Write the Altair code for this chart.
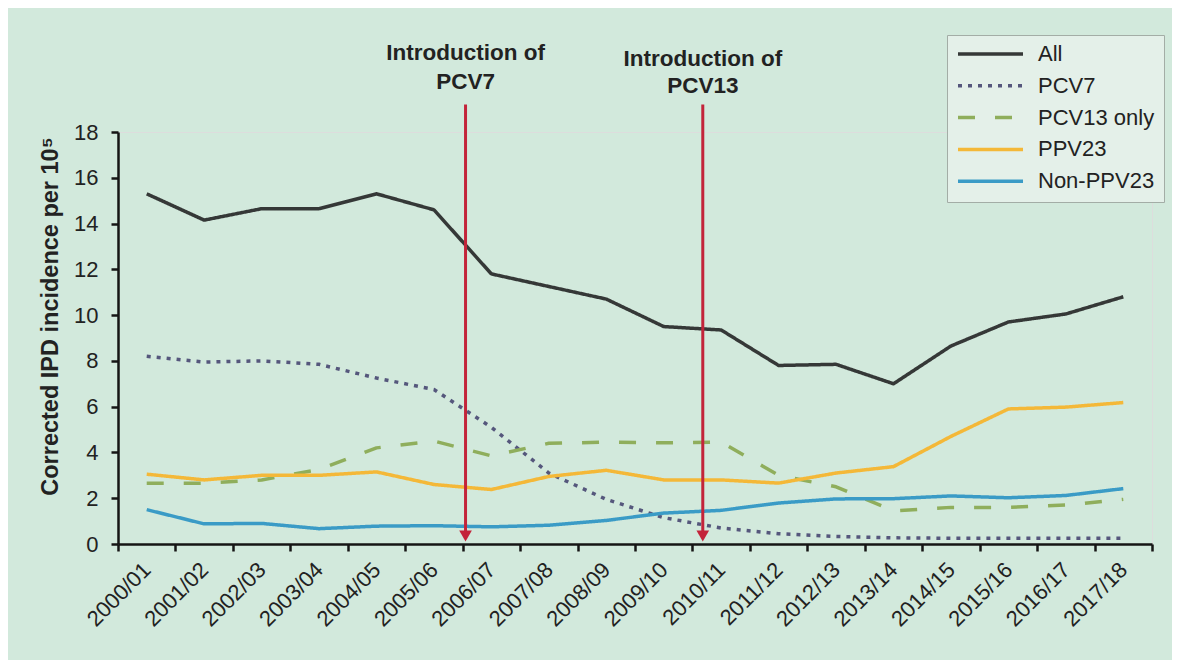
import json
import altair as alt
import pandas as pd

# ---------------- data ----------------
seasons = ["2000/01", "2001/02", "2002/03", "2003/04", "2004/05", "2005/06",
           "2006/07", "2007/08", "2008/09", "2009/10", "2010/11", "2011/12",
           "2012/13", "2013/14", "2014/15", "2015/16", "2016/17", "2017/18"]

all_ipd = [15.3, 14.15, 14.65, 14.65, 15.3, 14.6, 11.8, 11.25, 10.7, 9.5,
           9.35, 7.8, 7.85, 7.0, 8.65, 9.7, 10.05, 10.8]
pcv7 = [8.2, 7.95, 8.0, 7.85, 7.25, 6.75, 5.1, 3.1, 1.95, 1.15,
        0.7, 0.45, 0.33, 0.27, 0.25, 0.25, 0.25, 0.25]
pcv13_only = [2.65, 2.65, 2.8, 3.25, 4.2, 4.5, 3.85, 4.4, 4.45, 4.42,
              4.45, 3.0, 2.5, 1.45, 1.6, 1.6, 1.7, 1.95]
ppv23 = [3.05, 2.8, 3.0, 3.0, 3.15, 2.6, 2.38, 2.95, 3.22, 2.8,
         2.8, 2.66, 3.1, 3.38, 4.7, 5.9, 5.98, 6.18]
non_ppv23 = [1.5, 0.88, 0.9, 0.67, 0.78, 0.8, 0.75, 0.82, 1.03, 1.35,
             1.47, 1.79, 1.97, 1.98, 2.1, 2.02, 2.12, 2.42]

series_names = ["All", "PCV7", "PCV13 only", "PPV23", "Non-PPV23"]
series_values = [all_ipd, pcv7, pcv13_only, ppv23, non_ppv23]
series_colors = ["#353837", "#55577c", "#8fae5c", "#f4b838", "#3a9bc6"]
series_dashes = [[1, 0], [4, 6], [17, 20], [1, 0], [1, 0]]

# vaccine introductions (position in season units along the x axis)
intro_x = [6.05, 10.18]
intro_line1 = ["Introduction of", "Introduction of"]
intro_line2 = ["PCV7", "PCV13"]
intro_y1 = [21.45, 21.2]
intro_y2 = [20.2, 20.0]
arrow_top = 19.2
arrow_tip = 0.35

y_ticks = [0, 2, 4, 6, 8, 10, 12, 14, 16, 18]

# ---------------- tables ----------------
rows = []
for name, vals in zip(series_names, series_values):
    for i, v in enumerate(vals):
        rows.append({"x": i + 0.5, "v": v, "series": name, "season": seasons[i]})
df = pd.DataFrame(rows)

arrows = pd.DataFrame({"x": intro_x, "top": [arrow_top] * len(intro_x),
                       "tip": [arrow_tip] * len(intro_x)})
ann = pd.DataFrame({
    "x": intro_x + intro_x,
    "y": intro_y1 + intro_y2,
    "text": intro_line1 + intro_line2,
})

FONT = "Liberation Sans"
TXT = "#222222"
AXC = "#151515"
RED = "#c3243a"

xscale = alt.Scale(domain=[0, len(seasons)], nice=False, zero=False)
yscale = alt.Scale(domain=[0, 18], nice=False, zero=False)

tick_axis = alt.Axis(orient="bottom", values=list(range(len(seasons) + 1)),
                     labels=False, ticks=True, tickSize=7, tickWidth=2.5,
                     tickColor=AXC, domain=True, domainColor=AXC,
                     domainWidth=2.5, grid=False, title=None)

label_expr = json.dumps(seasons) + "[floor(datum.value)]"
label_axis = alt.Axis(orient="bottom", values=[i + 0.5 for i in range(len(seasons))],
                      labelExpr=label_expr, ticks=False, tickSize=0, domain=False,
                      grid=False, labelAngle=315, labelAlign="right",
                      labelBaseline="middle", labelPadding=22, labelFontSize=22,
                      labelFont=FONT, labelColor=TXT, title=None,
                      labelOverlap=False)

y_axis = alt.Axis(orient="left", values=y_ticks, format="d", grid=False, tickSize=7,
                  tickWidth=2.5, tickColor=AXC, domain=True, domainColor=AXC,
                  domainWidth=2.5, labelPadding=13, labelFontSize=22,
                  labelFont=FONT, labelColor=TXT,
                  title="Corrected IPD incidence per 10\u2075",
                  titleFont=FONT, titleFontSize=23.5, titleFontWeight="bold",
                  titleColor=TXT, titleAngle=270, titleAlign="center",
                  titleBaseline="middle", titleX=-68, titleY=184)

legend = alt.Legend(orient="none", legendX=829, legendY=-97, title=None,
                    symbolType="stroke", symbolSize=4225, symbolStrokeWidth=3.5,
                    clipHeight=20, rowPadding=9.8, padding=9, labelOffset=13,
                    labelFont=FONT, labelFontSize=22, labelColor=TXT,
                    fillColor="#e4f0e9", strokeColor="#a3ada6",
                    labelLimit=300)

lines = alt.Chart(df).mark_line(strokeWidth=3.5, strokeJoin="round").encode(
    x=alt.X("x:Q", scale=xscale, axis=tick_axis),
    y=alt.Y("v:Q", scale=yscale, axis=y_axis),
    color=alt.Color("series:N",
                    scale=alt.Scale(domain=series_names, range=series_colors),
                    legend=legend),
    strokeDash=alt.StrokeDash("series:N",
                              scale=alt.Scale(domain=series_names, range=series_dashes),
                              legend=legend),
)

rules = alt.Chart(arrows).mark_rule(color=RED, strokeWidth=3).encode(
    x=alt.X("x:Q", scale=xscale, axis=label_axis),
    y=alt.Y("top:Q", scale=yscale, axis=None),
    y2="tip:Q",
)

heads = alt.Chart(arrows).mark_point(shape="triangle-down", filled=True,
                                     size=160, color=RED, opacity=1).encode(
    x=alt.X("x:Q", scale=xscale, axis=None),
    y=alt.Y("tip:Q", scale=yscale, axis=None),
)

texts = alt.Chart(ann).mark_text(font=FONT, fontSize=22.5, fontWeight="bold",
                                 color=TXT, baseline="middle",
                                 align="center").encode(
    x=alt.X("x:Q", scale=xscale, axis=None),
    y=alt.Y("y:Q", scale=yscale, axis=None),
    text="text:N",
)

chart = alt.layer(lines, rules, heads, texts).resolve_axis(
    x="independent", y="independent"
).properties(
    width=1034,
    height=412,
    autosize=alt.AutoSizeParams(type="none"),
    padding={"left": 110, "top": 124, "right": 20, "bottom": 116},
    background="#d2e9dc",
).configure_view(
    fill="#e3f0e8", stroke="transparent"
).configure(font=FONT)

chart.save("out.html", embed_options={"renderer": "svg", "actions": False})
